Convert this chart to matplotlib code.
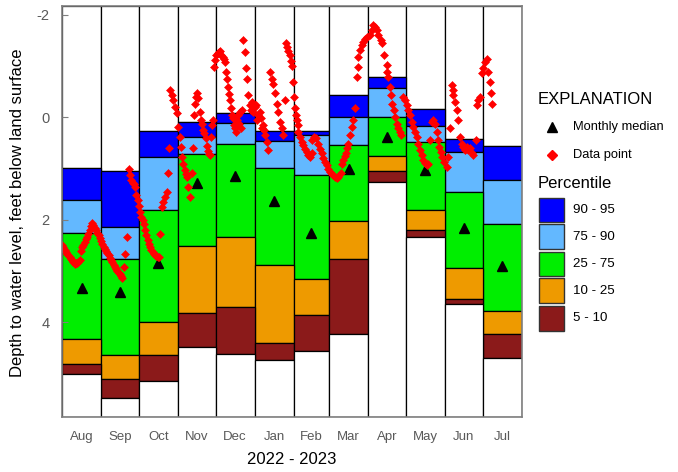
import matplotlib
matplotlib.use('Agg')
import matplotlib.pyplot as plt
import numpy as np
import pandas as pd
from matplotlib.patches import Rectangle

plt.rcParams['font.family'] = ['Liberation Sans', 'DejaVu Sans']
plt.rcParams['axes.unicode_minus'] = False

# ---------------- data ----------------
months = ['Aug', 'Sep', 'Oct', 'Nov', 'Dec', 'Jan', 'Feb', 'Mar', 'Apr', 'May', 'Jun', 'Jul']
p95 = [0.98, 1.04, 0.27, 0.09, -0.09, 0.27, 0.27, -0.43, -0.79, -0.17, 0.42, 0.56]
p90 = [1.62, 2.13, 0.77, 0.39, 0.11, 0.45, 0.35, 0.00, -0.58, 0.17, 0.68, 1.22]
p75 = [2.25, 2.77, 1.80, 0.72, 0.51, 0.98, 1.12, 0.53, 0.00, 0.48, 1.45, 2.08]
p25 = [4.33, 4.64, 3.99, 2.51, 2.34, 2.88, 3.15, 2.02, 0.75, 1.81, 2.94, 3.78]
p10 = [4.82, 5.11, 4.63, 3.81, 3.70, 4.41, 3.86, 2.77, 1.05, 2.19, 3.54, 4.22]
p5 = [5.01, 5.48, 5.15, 4.48, 4.61, 4.74, 4.56, 4.23, 1.26, 2.34, 3.65, 4.70]
median = [3.32, 3.41, 2.84, 1.28, 1.15, 1.63, 2.25, 1.00, 0.38, 1.02, 2.15, 2.90]

# data points: days since 2022-08-01, depth (ft below land surface)
point_day = [
    0, 1, 2, 3, 4, 5, 6, 7, 8, 9, 10, 11, 12, 13, 14, 15, 16, 17, 18, 19, 20,
    21, 22, 23, 24, 25, 26, 27, 28, 29, 30,
    31, 32, 33, 34, 35, 36, 37, 38, 39, 40, 41, 42, 43, 44, 45, 46, 47, 48,
    49, 50, 51.6, 53, 54, 55, 56, 57, 58, 59, 60,
    61, 62, 63, 64, 65, 66, 67, 68, 69, 70, 71, 72, 73, 74, 75, 76, 77,
    78, 79.4, 80.5, 82, 83, 84.4, 84.7, 85.8, 87, 88.4, 89.7, 91,
    92.4, 93.4, 94.2, 95, 96.3, 97.7, 98.5, 99, 100.3, 101.6, 102.9, 104,
    104.5, 105.6, 106.5, 107, 108.2, 109.5, 110.5, 111, 112, 113, 114, 115,
    116, 117, 117.5, 118.5, 119, 120,
    120.5, 121.5, 122.5, 123.5, 124.5, 125.5, 126.5, 127.5, 128.5, 129.5,
    130.5, 131.2, 132, 132.8, 133.5, 134.2, 135, 136, 136.8, 137.4, 138,
    138.7, 139.5, 140, 140.8, 141.3, 142, 142.7,
    144, 145.3, 146.3, 147, 148, 149.3,
    150, 151, 152, 153, 154, 155, 156, 157, 158, 158.5, 159.5, 160.5, 161.2,
    162.5, 163.8,
    165.1, 166.5, 167.8, 169.1, 170.5, 171.8, 173.1, 174.5, 175.8, 177.1,
    177.8, 178.8, 179.8, 180.8, 181.8, 182.6, 183.6, 184.2, 185, 185.6, 186.3,
    187, 187.6, 189, 190.3, 191.6, 192.9, 194.3, 195.6, 196.9, 198.2, 198.6,
    200.1, 201.7, 203.5, 204.8, 206.2, 207.5, 208.8, 210.2, 211.4, 212.8, 214,
    215.4, 216.8, 218.1, 219.4, 221.3, 222.1, 223.3, 224.4, 225.5, 226.4,
    227.3, 228.7, 230, 231.3, 232.6,
    234, 234.8, 235.3, 236.6, 237.9, 239.2, 240.6, 242.4, 244.5, 245.9, 247.2,
    248.5, 249.9, 251.1, 253, 253.8, 255.9, 257.8, 258.3, 259.1, 260.4, 261.2,
    262.3, 263.6, 264.6, 265.7, 267, 268.4, 269.5,
    271, 272.3, 273.7, 275, 276.3, 277.6, 278.9, 280.3, 281.6, 282.9, 284.2,
    285.6, 286.9, 288.2, 289.5, 290.8,
    292.2, 293.5, 294.8, 296.1, 297.5, 298.3, 299.6, 300.7, 302, 303.5, 305.4,
    306.7, 308,
    309.4, 310.2, 310.7, 312, 313.4, 314.6, 316, 317.4, 318.6, 320, 321.3,
    322.6, 324, 325.3, 326.6, 328.7,
    329.8, 330.6, 331.9, 333.2, 334.5, 335.8, 337.2, 338.5, 339.8, 340.4, 341.2,
]
point_depth = [
    2.49, 2.53, 2.58, 2.62, 2.66, 2.69, 2.73, 2.76, 2.79, 2.83, 2.86, 2.85, 2.84,
    2.82, 2.78, 2.60, 2.53, 2.48, 2.43, 2.38, 2.33,
    2.28, 2.20, 2.12, 2.06, 2.10, 2.16, 2.20, 2.25, 2.30, 2.36,
    2.42, 2.47, 2.52, 2.56, 2.61, 2.65, 2.69, 2.74, 2.78, 2.82, 2.87, 2.92,
    2.96, 3.00, 3.03, 3.06, 3.10, 3.13,
    2.92, 2.66, 2.33, 1.00, 1.13, 1.22, 1.27, 1.30, 1.35, 1.52, 1.62,
    1.72, 1.84, 1.94, 2.00, 2.07, 2.20, 2.30, 2.40, 2.46, 2.52, 2.59, 2.62,
    2.66, 2.69, 2.70, 2.72, 2.72,
    2.27, 1.75, 1.65, 1.55, 1.45, 1.09, 0.60, -0.53, -0.43, -0.34, -0.21, -0.08,
    0.18, 0.38, 0.57, 0.77, 0.90, 1.03, 1.10, 1.16, 1.35, 1.55, 1.09, 0.60,
    -0.05, -0.27, -0.40, -0.47, -0.37, -0.11, 0.05, 0.12, 0.25, 0.30, 0.41,
    0.55, 0.65, 0.72, 0.74, 0.38, 0.15, 0.05,
    -0.99, -1.12, -1.22, -1.25, -1.28, -1.30, -1.22, -1.18, -1.15, -1.09,
    -0.89, -0.76, -0.60, -0.45, -0.34, -0.18, -0.05, 0.02, 0.15, 0.21, 0.28,
    0.05, 0.10, -0.05, 0.12, -0.11, 0.20, -0.14,
    -1.51, -1.28, -0.96, -0.76, -0.44, -0.24,
    -0.15, -0.30, -0.10, -0.20, -0.24, 0.05, -0.05, -0.11, 0.02, 0.20, 0.15,
    0.25, 0.35, 0.48, 0.64,
    -0.89, -0.76, -0.66, -0.47, -0.27, -0.11, 0.08, 0.21, 0.35, -0.34,
    -1.45, -1.38, -1.30, -1.22, -1.10, -1.00, -0.70, -0.40, -0.18, -0.05, 0.05,
    0.15, 0.28, 0.38, 0.48, 0.54, 0.61, 0.67, 0.74, 0.77, 0.70, 0.44,
    0.38, 0.40, 0.51, 0.61, 0.70, 0.80, 0.87, 0.93, 1.00, 1.06, 1.10,
    1.13, 1.16, 1.19, 1.16, 1.09, 0.90, 0.83, 0.76, 0.70, 0.60,
    0.51, 0.35, 0.18, 0.05, -0.18,
    -0.79, -0.99, -1.18, -1.31, -1.41, -1.48, -1.54, -1.57, -1.61, -1.70, -1.80,
    -1.77, -1.70, -1.61, -1.51, -1.45, -1.22, -1.02, -0.89, -0.79, -0.60, -0.44,
    -0.27, -0.14, -0.01, 0.12, 0.21, 0.28, 0.35,
    -0.40, -0.34, -0.24, -0.14, -0.05, 0.08, 0.18, 0.28, 0.38, 0.51, 0.64,
    0.74, 0.83, 0.88, 0.93, 0.90,
    0.44, 0.08, 0.05, 0.12, 0.28, 0.44, 0.57, 0.67, 0.77, 0.87, 0.96,
    0.77, 0.21,
    -0.63, -0.53, -0.44, -0.30, -0.14, 0.05, 0.38, 0.51, 0.57, 0.64, 0.57,
    0.64, 0.60, 0.70, 0.74, 0.44,
    -0.24, -0.34, -0.40, -0.86, -0.96, -1.09, -1.15, -0.89, -0.70, -0.47, -0.27,
]

pct_labels = ['90 - 95', '75 - 90', '25 - 75', '10 - 25', '5 - 10']
pct_colors = ['#0000FF', '#63B8FF', '#00EE00', '#EE9A00', '#8B1A1A']

# ---------------- layout ----------------
W, H = 678, 472
fig = plt.figure(figsize=(W / 100, H / 100), dpi=100)
L, R, T, B = 62, 521.7, 6, 416.7
ax = fig.add_axes([L / W, 1 - B / H, (R - L) / W, (B - T) / H])

YTOP, YBOT = -2.175, 5.84
start = pd.Timestamp('2022-08-01')
edges = pd.date_range('2022-08-01', '2023-08-01', freq='MS')
edge_days = np.array((edges - start).days, dtype=float)
lefts = edge_days[:-1]
widths = np.diff(edge_days)
centers = lefts + widths / 2

n = len(months)
layers = [
    ([YTOP] * n, p95, 'white'),
    (p95, p90, pct_colors[0]),
    (p90, p75, pct_colors[1]),
    (p75, p25, pct_colors[2]),
    (p25, p10, pct_colors[3]),
    (p10, p5, pct_colors[4]),
    (p5, [YBOT] * n, 'white'),
]
for lo, hi, c in layers:
    lo = np.array(lo, dtype=float)
    hi = np.array(hi, dtype=float)
    ax.bar(lefts, hi - lo, bottom=lo, width=widths, align='edge', color=c,
           edgecolor='black', linewidth=0.9, zorder=1)

ax.plot(centers, median, linestyle='none', marker='^', color='black', ms=7.5, zorder=3)
ax.plot(point_day, point_depth, linestyle='none', marker='D', color='red',
        mec='red', mew=0.4, ms=4.3, zorder=4)

ax.set_xlim(edge_days[0], edge_days[-1])
ax.set_ylim(YBOT, YTOP)
ax.set_yticks([-2, 0, 2, 4])
ax.tick_params(axis='y', direction='in', length=4, color='#7f7f7f',
               labelcolor='#595959', labelsize=10.5, pad=9)
ax.set_xticks(centers, months)
ax.tick_params(axis='x', length=0, labelcolor='#595959', labelsize=9.5, pad=10)
for s in ax.spines.values():
    s.set_color('#7f7f7f')
    s.set_linewidth(1.2)
    s.set_zorder(5)

ax.set_xlabel('2022 - 2023', fontsize=12, color='black', va='center')
ax.xaxis.set_label_coords(0.5, -(460 - B) / (B - T))
ax.set_ylabel('Depth to water level, feet below land surface', fontsize=12,
              color='black', va='center')
ax.yaxis.set_label_coords((18 - L) / (R - L), (B - 213) / (B - T))

# ---------------- legend (explanation) ----------------
lg = fig.add_axes([0, 0, 1, 1])
lg.set_xlim(0, W)
lg.set_ylim(H, 0)
lg.axis('off')
lg.text(538, 100, 'EXPLANATION', fontsize=12, va='center', ha='left')
lg.plot([551.7], [127], linestyle='none', marker='^', color='black', ms=7.5)
lg.text(573, 127, 'Monthly median', fontsize=9.3, va='center', ha='left')
lg.plot([552], [155], linestyle='none', marker='D', color='red', mec='red', ms=5.2)
lg.text(573, 155, 'Data point', fontsize=9.3, va='center', ha='left')
lg.text(538, 183, 'Percentile', fontsize=12, va='center', ha='left')
tops = [197.7, 224.3, 251.7, 278.3, 306]
for t, lab, c in zip(tops, pct_labels, pct_colors):
    lg.add_patch(Rectangle((539.3, t), 25, 24.5, facecolor=c, edgecolor='#333333', lw=1))
    lg.text(573, t + 12.2, lab, fontsize=9.6, va='center', ha='left')

fig.savefig('out.png', dpi=100)
